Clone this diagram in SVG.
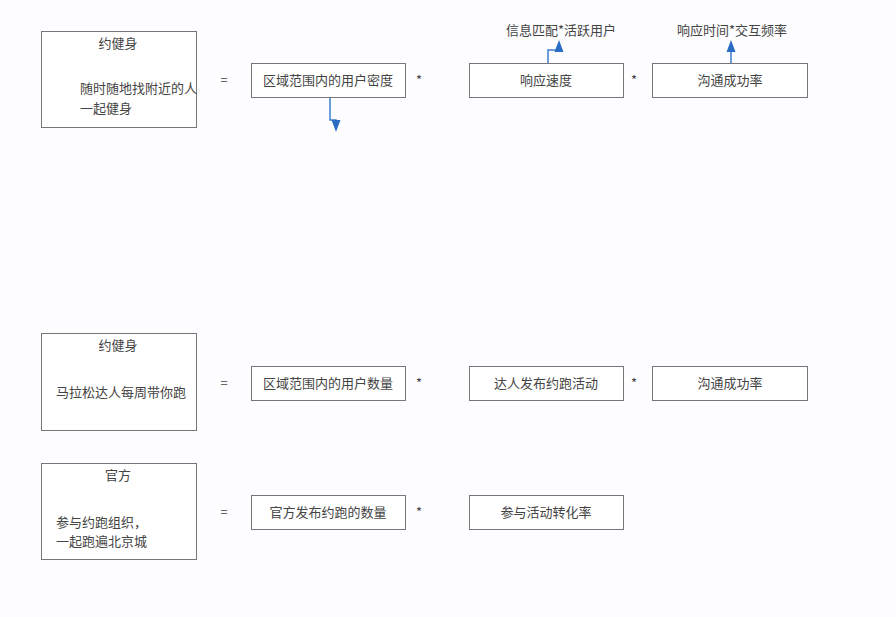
<svg xmlns="http://www.w3.org/2000/svg" width="896" height="617" viewBox="0 0 896 617">
<style>
.b{fill:#fff;stroke:#777;stroke-width:1}
text{font-family:"Noto Sans CJK SC","Microsoft YaHei",sans-serif;font-size:13px;fill:#444}
.c{text-anchor:middle}
.l{fill:none;stroke:#3d7fd0;stroke-width:1.5}
</style>
<defs><marker id="a" markerWidth="8" markerHeight="8" refX="4" refY="4" orient="auto"><path d="M0,1 L8,4 L0,7Z" fill="#2a6cc4"/></marker></defs>
<rect width="896" height="617" fill="#fdfcfe"/>
<g id="n1"><rect class="b" x="41.5" y="31.5" width="155" height="96"/><text class="c" x="118" y="48">约健身</text><text x="80" y="93">随时随地找附近的人</text><text x="80" y="113">一起健身</text></g>
<g id="n2"><rect class="b" x="251.5" y="63.5" width="154" height="34"/><text class="c" x="328" y="85">区域范围内的用户密度</text></g>
<g id="n3"><rect class="b" x="469.5" y="63.5" width="154" height="34"/><text class="c" x="546" y="85">响应速度</text></g>
<g id="n4"><rect class="b" x="652.5" y="63.5" width="155" height="34"/><text class="c" x="730" y="85">沟通成功率</text></g>
<text class="c" x="561" y="35">信息匹配*活跃用户</text>
<text class="c" x="732" y="35">响应时间*交互频率</text>
<g id="n5"><rect class="b" x="41.5" y="333.5" width="155" height="97"/><text class="c" x="118" y="350">约健身</text><text x="56" y="397">马拉松达人每周带你跑</text></g>
<g id="n6"><rect class="b" x="251.5" y="366.5" width="154" height="34"/><text class="c" x="328" y="388">区域范围内的用户数量</text></g>
<g id="n7"><rect class="b" x="469.5" y="366.5" width="154" height="34"/><text class="c" x="546" y="388">达人发布约跑活动</text></g>
<g id="n8"><rect class="b" x="652.5" y="366.5" width="155" height="34"/><text class="c" x="730" y="388">沟通成功率</text></g>
<g id="n9"><rect class="b" x="41.5" y="463.5" width="155" height="96"/><text class="c" x="118" y="480">官方</text><text x="56" y="527">参与约跑组织，</text><text x="56" y="546">一起跑遍北京城</text></g>
<g id="n10"><rect class="b" x="251.5" y="495.5" width="154" height="34"/><text class="c" x="328" y="517">官方发布约跑的数量</text></g>
<g id="n11"><rect class="b" x="469.5" y="495.5" width="154" height="34"/><text class="c" x="546" y="517">参与活动转化率</text></g>
<g id="ops"><text class="c" x="224" y="85">=</text><text class="c" x="419" y="85">*</text><text class="c" x="634" y="85">*</text>
<text class="c" x="224" y="388">=</text><text class="c" x="419" y="388">*</text><text class="c" x="634" y="388">*</text>
<text class="c" x="224" y="517">=</text><text class="c" x="419" y="517">*</text></g>
<g id="connectors">
<path class="l" d="M330,98 V120 H336 V126" marker-end="url(#a)"/>
<path class="l" d="M548,63 V50 H559 V46" marker-end="url(#a)"/>
<path class="l" d="M731,63 V46" marker-end="url(#a)"/>
</g>
</svg>
